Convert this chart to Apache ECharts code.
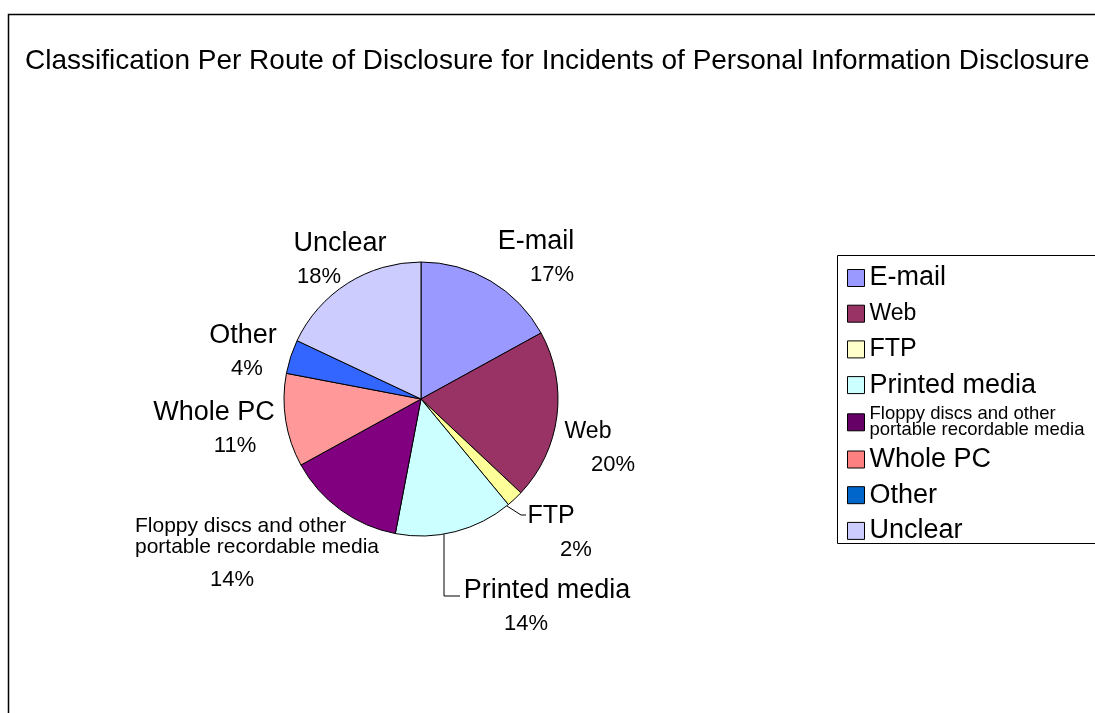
<!DOCTYPE html>
<html>
<head>
<meta charset="utf-8">
<script src="https://cdn.jsdelivr.net/npm/echarts@6/dist/echarts.min.js"></script>
<style>
  html, body { margin: 0; padding: 0; background: #fff; }
  #chart { width: 1095px; height: 713px; }
</style>
</head>
<body>
<div id="chart"></div>
<script>
// data
const categories = ['E-mail', 'Web', 'FTP', 'Printed media',
    'Floppy discs and other\nportable recordable media', 'Whole PC', 'Other', 'Unclear'];
const shares = [17, 20, 2, 14, 14, 11, 4, 18];

// styling
const sliceColors = ['#9999FF', '#993366', '#FFFF99', '#CCFFFF', '#800080', '#FF9999', '#3366FF', '#CCCCFF'];
const legendColors = ['#9999FF', '#993366', '#FFFFCC', '#CCFFFF', '#660066', '#FF8080', '#0066CC', '#CCCCFF'];
// label block centre, percent offset, name font size
const labelPos = [
    { x: 536, y: 258, dx: 16, size: 27 },
    { x: 588, y: 448, dx: 25, size: 23 },
    { x: 551, y: 533, dx: 25, size: 25 },
    { x: 547, y: 607, dx: -21, size: 27 },
    { x: 257, y: 547, dx: 0, size: 21, left: 75 },
    { x: 214, y: 429, dx: 21, size: 27 },
    { x: 243, y: 352, dx: 4, size: 27 },
    { x: 340, y: 260, dx: -21, size: 27 }
];
// leader lines (only two labels have one)
const leaders = {
    'FTP': [[507, 506], [521, 515], [526, 515]],
    'Printed media': [[444, 534], [444, 596], [460, 596]]
};
const legendSize = [27, 23, 25, 27, 18.5, 27, 27, 27];

let chart = echarts.init(document.getElementById('chart'));

let pieData = categories.map((name, i) => {
    let p = labelPos[i];
    let rich;
    if (p.left != null) {
        rich = {
            n: { fontFamily: 'Liberation Sans', fontSize: p.size, lineHeight: 21, align: 'left', color: '#000' },
            p: { fontFamily: 'Liberation Sans', fontSize: 22, lineHeight: 21,
                 align: 'left', padding: [23, 0, 0, p.left], color: '#000' }
        };
    } else {
        rich = {
            n: { fontFamily: 'Liberation Sans', fontSize: p.size, lineHeight: 33, color: '#000' },
            p: { fontFamily: 'Liberation Sans', fontSize: 22, lineHeight: 33, color: '#000',
                 padding: p.dx >= 0 ? [0, 0, 0, 2 * p.dx] : [0, -2 * p.dx, 0, 0] }
        };
    }
    return {
        name: name,
        value: shares[i],
        itemStyle: { color: sliceColors[i] },
        label: { rich: rich },
        labelLine: { show: !!leaders[name] }
    };
});

let option = {
    animation: false,
    backgroundColor: '#fff',
    title: {
        text: 'Classification Per Route of Disclosure for Incidents of Personal Information Disclosure',
        left: 25,
        top: 47,
        padding: 0,
        textStyle: { fontFamily: 'Liberation Sans', fontSize: 28, fontWeight: 'normal', color: '#000' }
    },
    graphic: [
        {
            type: 'rect',
            shape: { x: 8.5, y: 14.5, width: 1200, height: 800 },
            style: { fill: 'none', stroke: '#000', lineWidth: 1.5 },
            silent: true
        },
        {
            type: 'rect',
            shape: { x: 837.5, y: 255.5, width: 300, height: 288 },
            style: { fill: 'none', stroke: '#000', lineWidth: 1 },
            silent: true
        }
    ],
    legend: {
        orient: 'vertical',
        left: 847,
        top: 262,
        padding: 0,
        itemWidth: 17,
        itemHeight: 17,
        itemGap: 3.7,
        icon: 'rect',
        selectedMode: false,
        textStyle: { fontFamily: 'Liberation Sans', fontSize: 27, lineHeight: 32, color: '#000' },
        data: categories.map((name, i) => ({
            name: name,
            itemStyle: { color: legendColors[i], borderColor: '#000', borderWidth: 1 },
            textStyle: i === 4 ? { fontSize: legendSize[i], lineHeight: 16 } : { fontSize: legendSize[i] }
        }))
    },
    series: [
        {
            type: 'pie',
            center: [421, 399],
            radius: 137,
            startAngle: 90,
            clockwise: true,
            avoidLabelOverlap: false,
            itemStyle: { borderColor: '#000', borderWidth: 1 },
            emphasis: { disabled: true },
            label: {
                show: true,
                position: 'outside',
                formatter: function (params) {
                    return '{n|' + params.name + '}\n{p|' + Math.round(params.percent) + '%}';
                }
            },
            labelLine: {
                show: false,
                length: 10,
                length2: 10,
                lineStyle: { color: '#000', width: 1 }
            },
            labelLayout: function (params) {
                let p = labelPos[params.dataIndex];
                let name = categories[params.dataIndex];
                let out = { x: p.x, y: p.y, align: 'center', verticalAlign: 'middle' };
                if (leaders[name]) out.labelLinePoints = leaders[name];
                return out;
            },
            data: pieData
        }
    ]
};
chart.setOption(option);
</script>
</body>
</html>
